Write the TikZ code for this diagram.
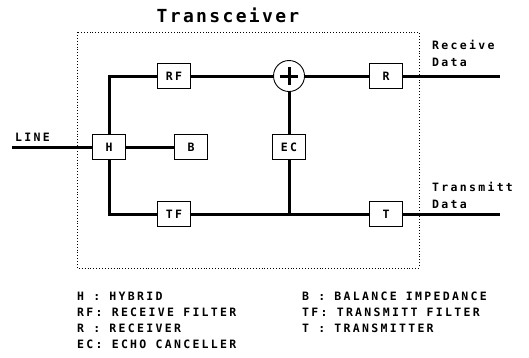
\documentclass[tikz,border=0pt]{standalone}
\usepackage{fontspec}
\newfontfamily\plotfont[LetterSpace=20]{DejaVu Sans Mono Bold}
\newfontfamily\titlefont[LetterSpace=13]{DejaVu Sans Mono Bold}
\usetikzlibrary{positioning}

\begin{document}
\begin{tikzpicture}[x=1pt, y=-1pt,
    every node/.style={font=\plotfont\fontsize{11.5}{13}\selectfont},
    blk/.style={draw, line width=.9pt, fill=white, minimum width=33pt,
      minimum height=25pt, inner sep=0pt},
    wire/.style={line width=3pt},
    lgd/.style={anchor=west, inner sep=0pt}]
  \useasboundingbox (0,0) rectangle (529,357);
  % frame and title
  \draw[dotted, line width=.9pt] (77,32) rectangle (419,268);
  \node[font=\titlefont\fontsize{18}{20}\selectfont] (title) at (228,15) {Transceiver};
  % blocks
  \node[blk] (H) at (109,147) {H};
  \node[blk] (B) at (191,147) {B};
  \node[blk] (EC) at (289,147) {EC};
  \node[blk] (RF) at (174,76) {RF};
  \node[blk] (TF) at (174,214) {TF};
  \node[blk] (R) at (386,76) {R};
  \node[blk] (T) at (386,214) {T};
  \node[circle, draw, line width=.9pt, minimum size=31pt] (S) at (289,76) {};
  \draw[wire] (S.center) ++(-9,0) -- ++(18,0);
  \draw[wire] (S.center) ++(0,-9) -- ++(0,18);
  % ends of the outside lines
  \coordinate (lin) at (12,147);
  \coordinate (rxd) at (500,76);
  \coordinate (txd) at (500,214);
  \coordinate (J) at (EC |- TF);
  % wires
  \draw[wire] (lin) -- (H.west);
  \draw[wire] (H.east) -- (B.west);
  \draw[wire] (H.north) |- (RF.west);
  \draw[wire] (RF.east) -- (S.west);
  \draw[wire] (S.east) -- (R.west);
  \draw[wire] (R.east) -- (rxd);
  \draw[wire] (S.south) -- (EC.north);
  \draw[wire] (EC.south) -- (J);
  \draw[wire] (H.south) |- (TF.west);
  \draw[wire] (TF.east) -- (T.west);
  \draw[wire] (T.east) -- (txd);
  % outside labels
  \node[lgd] (linelbl) at (15,137) {LINE};
  \node[lgd] (rx1) at (432,45) {Receive};
  \node[lgd] (rx2) at (432,62) {Data};
  \node[lgd] (tx1) at (432,187) {Transmitt};
  \node[lgd] (tx2) at (432,204) {Data};
  % legend
  \node[lgd] (l1) at (77,296) {H : HYBRID};
  \node[lgd] (l2) at (77,312) {RF: RECEIVE FILTER};
  \node[lgd] (l3) at (77,328) {R : RECEIVER};
  \node[lgd] (l4) at (77,344) {EC: ECHO CANCELLER};
  \node[lgd] (l5) at (302,296) {B : BALANCE IMPEDANCE};
  \node[lgd] (l6) at (302,312) {TF: TRANSMITT FILTER};
  \node[lgd] (l7) at (302,328) {T : TRANSMITTER};
\end{tikzpicture}
\end{document}
